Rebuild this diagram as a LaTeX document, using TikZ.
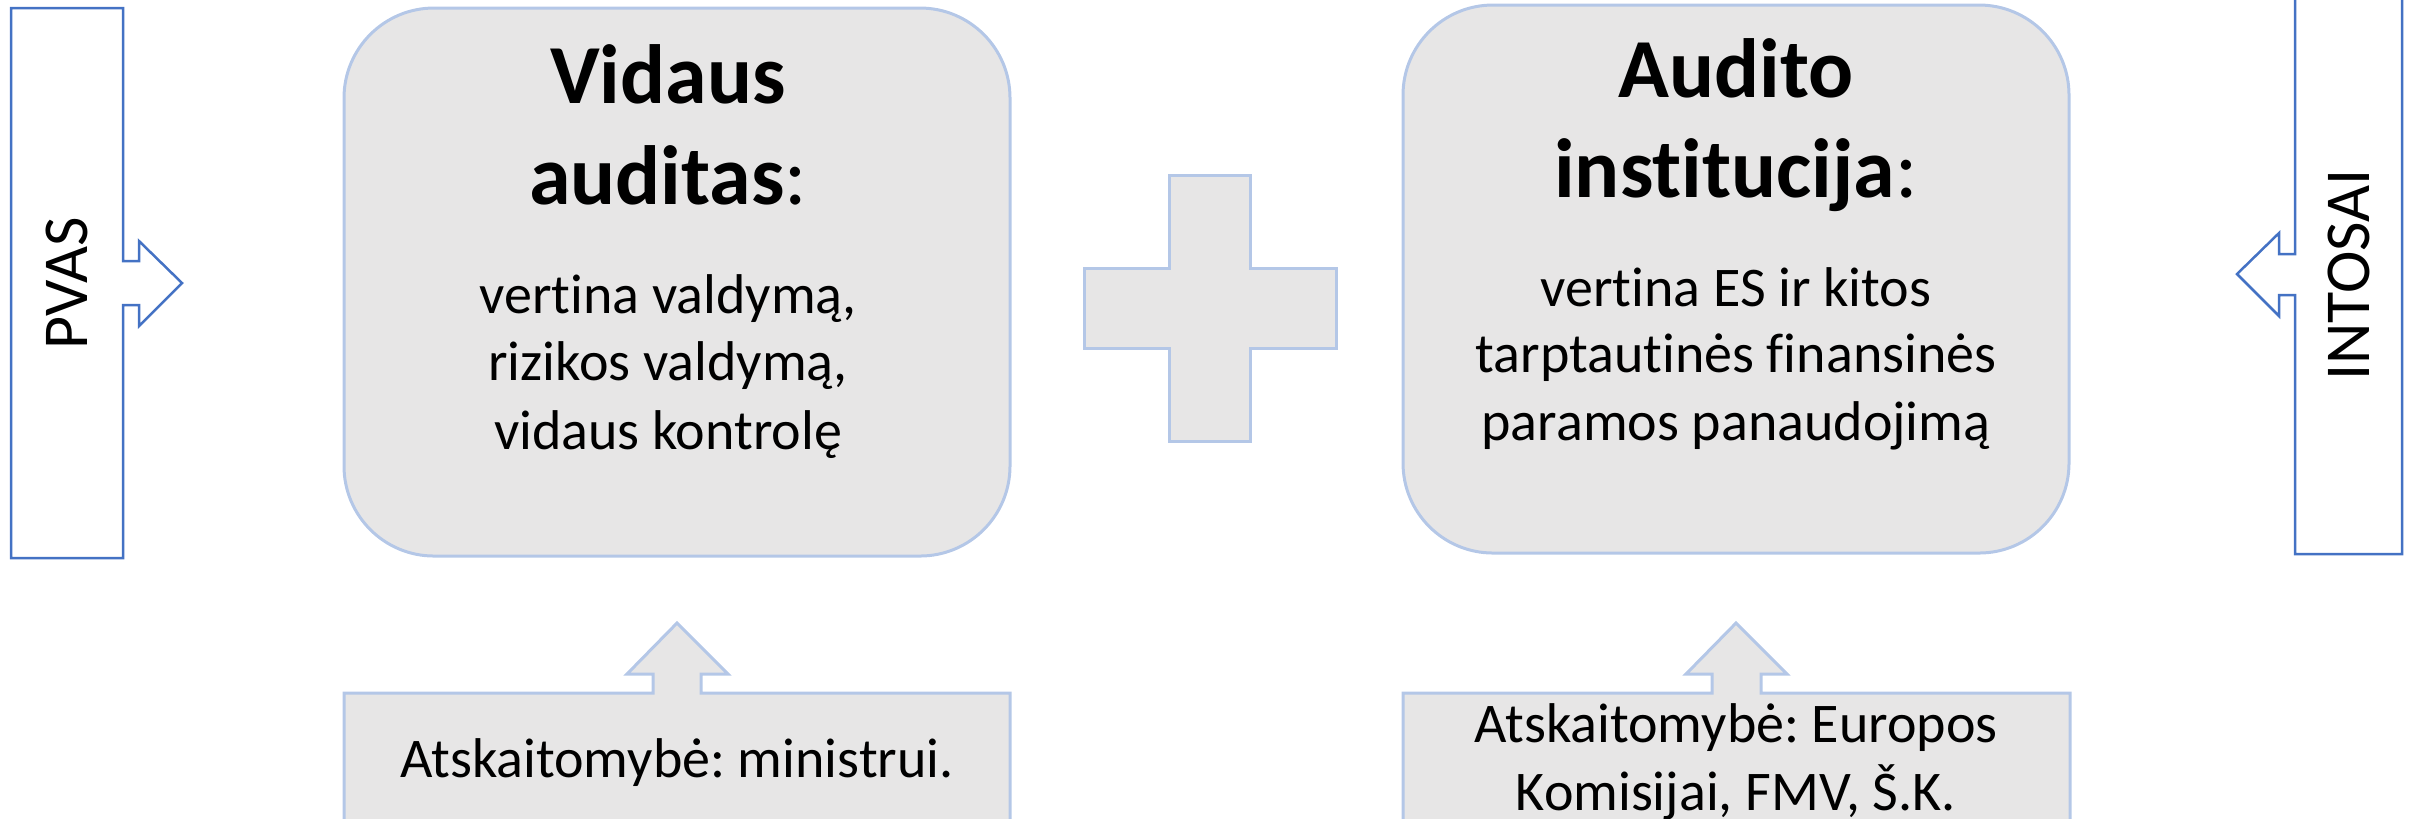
\documentclass[tikz,border=0pt]{standalone}
\usepackage{fontspec}
\setmainfont{Carlito}[Ligatures={NoCommon,NoRequired,NoContextual}]
\usepackage{tikz}
\usetikzlibrary{positioning}
\definecolor{boxfill}{HTML}{E7E6E6}
\definecolor{boxline}{HTML}{B4C7E7}
\definecolor{sideline}{HTML}{4472C4}
\frenchspacing

\begin{document}
\begin{tikzpicture}
      [
      x=0.2pt, y=-0.2pt,
      mainbox/.style={draw=boxline,fill=boxfill,line width=0.6pt,rounded corners=18pt,minimum width=133.2pt,minimum height=109.6pt,inner sep=0pt},
      callout/.style={draw=boxline,fill=boxfill,line width=0.6pt},
      sidebox/.style={draw=sideline,fill=white,line width=0.5pt},
      title/.style={font=\fontsize{16.8}{20}\selectfont\bfseries,anchor=base,inner sep=0pt},
      body/.style={font=\fontsize{11.2}{13.4}\selectfont,anchor=base,inner sep=0pt},
      sidelabel/.style={font=\fontsize{12.8}{15}\selectfont,rotate=90,inner sep=0pt}
      ]
      \useasboundingbox (0,0) rectangle (2410,818);
      % side callouts
      \draw [sidebox] (11,8) -- (123,8) -- (123,261) -- (139,261) -- (139,241) -- (182,283) -- (139,326) -- (139,305) -- (123,305) -- (123,558) -- (11,558) -- cycle;
      \draw [sidebox] (2295,-6) -- (2402,-6) -- (2402,554) -- (2295,554) -- (2295,295) -- (2279,295) -- (2279,316) -- (2237,274) -- (2279,233) -- (2279,254) -- (2295,254) -- cycle;
      \node (pvas) at (67,283) [sidelabel] {PVAS};
      \node (intosai) at (2349,275) [sidelabel] {INTOSAI};
      % main boxes
      \node (vidaus) at (677,282) [mainbox] {};
      \node (audito) at (1736,279) [mainbox] {};
      \draw [callout] (1169,175) -- (1250,175) -- (1250,268) -- (1336,268) -- (1336,348) -- (1250,348) -- (1250,441) -- (1169,441) -- (1169,348) -- (1084,348) -- (1084,268) -- (1169,268) -- cycle;
      \node (vidaus1) at (668,103) [title] {Vidaus};
      \node (vidaus2) at (668,204) [title] {auditas\textmd{:}};
      \node (vidaus3) at (668,313) [body] {vertina valdymą,};
      \node (vidaus4) at (668,380) [body] {rizikos valdymą,};
      \node (vidaus5) at (668,449) [body] {vidaus kontrolę};
      \node (audito1) at (1736,97) [title] {Audito};
      \node (audito2) at (1736,197) [title] {institucija\textmd{:}};
      \node (audito3) at (1736,306) [body] {vertina ES ir kitos};
      \node (audito4) at (1736,372) [body] {tarptautinės finansinės};
      \node (audito5) at (1736,440) [body] {paramos panaudojimą};
      % bottom callouts
      \draw [callout] (344,693) -- (653,693) -- (653,674) -- (627,674) -- (677,623) -- (728,674) -- (701,674) -- (701,693) -- (1010,693) -- (1010,831) -- (344,831) -- cycle;
      \draw [callout] (1403,693) -- (1712,693) -- (1712,674) -- (1686,674) -- (1736,623) -- (1787,674) -- (1761,674) -- (1761,693) -- (2070,693) -- (2070,831) -- (1403,831) -- cycle;
      \node (ataskL) at (677,777) [body] {Atskaitomybė: ministrui.};
      \node (ataskR1) at (1736,742) [body] {Atskaitomybė: Europos};
      \node (ataskR2) at (1736,810) [body] {Komisijai, FMV, Š.K.};
\end{tikzpicture}
\end{document}
